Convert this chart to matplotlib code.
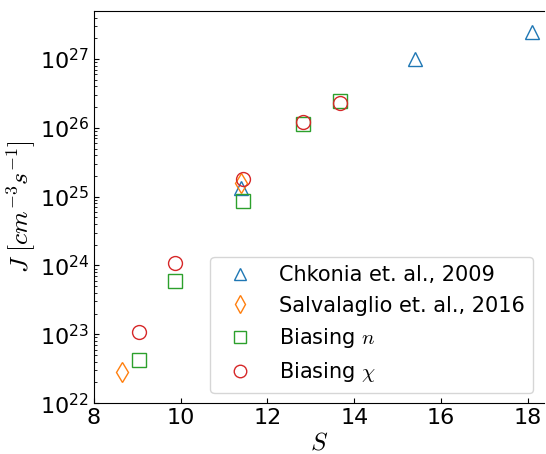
import numpy as np
import matplotlib
matplotlib.use('Agg')
import matplotlib.pyplot as plt

plt.rcParams['mathtext.fontset'] = 'cm'

# Chkonia et. al., 2009
S_chk = [11.4, 15.4, 18.1]
J_chk = [1.35e25, 1.0e27, 2.45e27]

# Salvalaglio et. al., 2016
S_sal = [8.65, 11.4]
J_sal = [2.8e22, 1.6e25]

# Biasing n
S_n = [9.05, 9.87, 11.43, 12.82, 13.67]
J_n = [4.3e22, 5.9e23, 8.7e24, 1.12e26, 2.46e26]

# Biasing chi
S_chi = [9.03, 9.87, 11.43, 12.82, 13.67]
J_chi = [1.08e23, 1.08e24, 1.8e25, 1.22e26, 2.28e26]

fig = plt.figure(figsize=(5.46, 4.54), dpi=100)
ax = fig.add_axes([0.172, 0.112, 0.824, 0.864])

ms = 10
ax.plot(S_chk, J_chk, '^', mfc='none', mec='C0', ms=ms, label='Chkonia et. al., 2009')
ax.plot(S_sal, J_sal, 'd', mfc='none', mec='C1', ms=ms, label='Salvalaglio et. al., 2016')
ax.plot(S_n, J_n, 's', mfc='none', mec='C2', ms=ms, label=r'Biasing $n$')
ax.plot(S_chi, J_chi, 'o', mfc='none', mec='C3', ms=ms, label=r'Biasing $\chi$')

ax.set_yscale('log')
ax.set_xlim(8, 18.37)
ax.set_ylim(1e22, 5e27)
ax.set_xticks([8, 10, 12, 14, 16, 18])
ax.tick_params(axis='both', which='both', direction='in', labelsize=16)
ax.spines['right'].set_visible(False)

ax.set_xlabel(r'$S$', fontsize=18, labelpad=2)
ax.set_ylabel(r'$J\ [cm^{-3}s^{-1}]$', fontsize=18.5, labelpad=1)

ax.legend(loc='lower right', fontsize=15, handletextpad=0.9, borderaxespad=0.5,
          labelspacing=0.5, markerscale=0.9)

fig.savefig('out.png', dpi=100)
